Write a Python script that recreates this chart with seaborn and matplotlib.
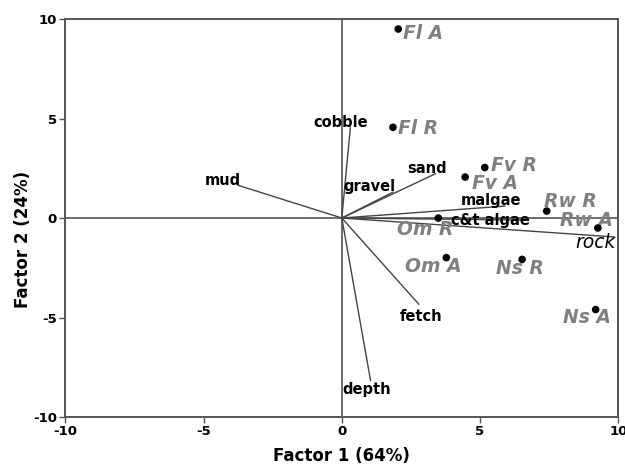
import matplotlib
matplotlib.use("Agg")
import matplotlib.pyplot as plt
import seaborn as sns
import pandas as pd

# ---- data ----
site_names = ["Fl A", "Fl R", "Fv R", "Fv A", "Rw R", "Rw A", "Om R", "Om A", "Ns R", "Ns A"]
site_f1 = [2.04, 1.85, 5.17, 4.46, 7.41, 9.26, 3.49, 3.78, 6.52, 9.18]
site_f2 = [9.50, 4.56, 2.54, 2.06, 0.35, -0.50, 0.00, -1.99, -2.08, -4.60]

var_names = ["mud", "cobble", "gravel", "sand", "malgae", "c&t algae", "rock", "fetch", "depth"]
var_f1 = [-3.76, 0.31, 1.85, 3.39, 5.90, 6.60, 9.85, 2.79, 1.04]
var_f2 = [1.65, 4.56, 1.30, 2.23, 0.60, -0.10, -0.95, -4.34, -8.17]

x_ticks = [-10, -5, 0, 5, 10]
y_ticks = [-10, -5, 0, 5, 10]
x_label = "Factor 1 (64%)"
y_label = "Factor 2 (24%)"

# ---- label placement (layout only) ----
site_label_pos = {
    "Fl A": (2.22, 9.28), "Fl R": (2.05, 4.51), "Fv R": (5.38, 2.65),
    "Fv A": (4.72, 1.76), "Rw R": (7.31, 0.84), "Rw A": (7.88, -0.12),
    "Om R": (2.00, -0.57), "Om A": (2.30, -2.43), "Ns R": (5.59, -2.52),
    "Ns A": (8.01, -5.01),
}
var_label_pos = {
    "mud": (-4.97, 1.90), "cobble": (-1.03, 4.82), "gravel": (0.07, 1.56),
    "sand": (2.37, 2.47), "malgae": (4.29, 0.89), "c&t algae": (3.96, -0.12),
    "rock": (8.45, -1.21), "fetch": (2.10, -4.95), "depth": (0.01, -8.64),
}

sns.set_style("white")
plt.rcParams["font.family"] = ["DejaVu Sans"]
plt.rcParams["text.color"] = "black"
plt.rcParams["axes.labelcolor"] = "black"
plt.rcParams["xtick.color"] = "black"
plt.rcParams["ytick.color"] = "black"

fig = plt.figure(figsize=(6.25, 4.65), dpi=100)
ax = fig.add_axes([0.1045, 0.1032, 0.8848, 0.8558])

frame_col = "#555555"
ax.axhline(0, color=frame_col, lw=1.2, zorder=1)
ax.axvline(0, color=frame_col, lw=1.2, zorder=1)

# vectors from origin
for name, vx, vy in zip(var_names, var_f1, var_f2):
    ax.plot([0, vx], [0, vy], color="#444444", lw=1.0, zorder=2)

sites = pd.DataFrame({"f1": site_f1, "f2": site_f2, "site": site_names})
sns.scatterplot(data=sites, x="f1", y="f2", ax=ax, color="black", s=30,
                edgecolor="none", zorder=4, legend=False)

for name in site_names:
    lx, ly = site_label_pos[name]
    ax.text(lx, ly, name, color="#808080", fontsize=13.5, fontstyle="italic",
            fontweight="bold", ha="left", va="center", zorder=3)

for name in var_names:
    lx, ly = var_label_pos[name]
    if name == "rock":
        ax.text(lx, ly, name, color="black", fontsize=13.5, fontstyle="italic",
                ha="left", va="center", zorder=5)
    else:
        ax.text(lx, ly, name, color="black", fontsize=10.5, fontweight="bold",
                ha="left", va="center", zorder=5)

ax.set_xlim(-10, 10)
ax.set_ylim(-10, 10)
ax.set_xticks(x_ticks)
ax.set_yticks(y_ticks)
ax.set_xticklabels([str(t) for t in x_ticks], fontweight="bold", fontsize=9.5)
ax.set_yticklabels([str(t) for t in y_ticks], fontweight="bold", fontsize=9.5)
ax.tick_params(axis="both", direction="out", length=4, width=1.0,
               color=frame_col, labelcolor="black", pad=2, bottom=True, left=True)

for sp in ax.spines.values():
    sp.set_visible(True)
    sp.set_color(frame_col)
    sp.set_linewidth(1.4)

ax.set_xlabel(x_label, fontweight="bold", fontsize=12, color="black")
ax.set_ylabel(y_label, fontweight="bold", fontsize=12, color="black")
ax.xaxis.set_label_coords(0.5, -0.075)
ax.yaxis.set_label_coords(-0.060, 0.447)

fig.savefig("out.png", dpi=100)
